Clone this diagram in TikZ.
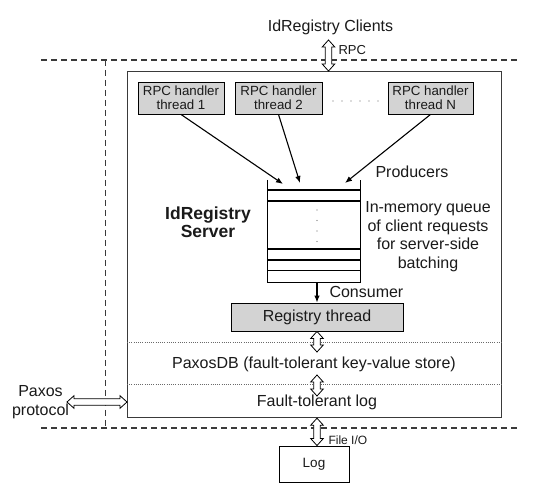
\documentclass[tikz,border=0pt]{standalone}
\usepackage{fontspec}
\setmainfont{Liberation Sans}
\usetikzlibrary{arrows.meta,calc}
\definecolor{boxgray}{HTML}{D3D3D3}
\definecolor{linegray}{HTML}{3A3A3A}
\definecolor{dotgray}{HTML}{6A6A6A}
\definecolor{txt}{HTML}{1A1A1A}
\newcommand\dblconn[2]{\draw[dblarr] let \p1=(#1), \p2=(#2), \n1={atan2(\y2-\y1,\x2-\x1)}, \n2={veclen(\x2-\x1,\y2-\y1)} in [shift={(\p1)}, rotate=\n1] (0,0) -- (7,6.3) -- (7,3.3) -- (\n2-7,3.3) -- (\n2-7,6.3) -- (\n2,0) -- (\n2-7,-6.3) -- (\n2-7,-3.3) -- (7,-3.3) -- (7,-6.3) -- cycle;}
\begin{document}
\begin{tikzpicture}[x=1pt,y=-1pt,
  every node/.style={text=txt},
  mainfont/.style={font=\fontsize{16}{18.5}\selectfont},
  smallfont/.style={font=\fontsize{13}{14}\selectfont},
  handler/.style={draw=black, fill=boxgray, line width=0.9pt, align=center, inner sep=0pt,
    font=\fontsize{13.3}{13.5}\selectfont, minimum height=32pt},
  regbox/.style={draw=black, fill=boxgray, line width=0.9pt, inner sep=0pt, mainfont,
    minimum width=172pt, minimum height=28pt},
  logbox/.style={draw=black, fill=white, line width=0.9pt, inner sep=0pt,
    font=\fontsize{13.5}{14}\selectfont, minimum width=70pt, minimum height=36pt},
  mainbox/.style={draw=linegray, line width=1.2pt, inner sep=0pt},
  dashline/.style={draw=linegray, line width=1.3pt, dash pattern=on 6pt off 4pt},
  dotline/.style={draw=dotgray, line width=0.6pt, dash pattern=on 0.8pt off 1.4pt},
  qline/.style={draw=black, line width=1.1pt},
  arr/.style={draw=black, line width=1.1pt, -{Latex[length=7pt,width=5.5pt]}},
  dblarr/.style={draw=black, fill=white, line width=0.8pt, line join=miter}
]
\useasboundingbox (0,0) rectangle (539,494);
\fill[white] (0,0) rectangle (539,494);

% dashed boundaries
\draw[dashline] (41,60) -- (517,60);
\draw[dashline] (41,428) -- (517,428);
\draw[dashline] (105.5,60) -- (105.5,428);

% server box
\node[mainbox, minimum width=374pt, minimum height=346pt, anchor=north west] (server) at (127,71) {};

% dotted separators
\draw[dotline] (server.west |- 0,342) -- (server.east |- 0,342);
\draw[dotline] (server.west |- 0,384) -- (server.east |- 0,384);

% clients
\node[mainfont, anchor=base] (clients) at (330.5,32) {IdRegistry Clients};
\node[smallfont, anchor=base west] (rpc) at (335,55) {RPC};

% handler threads
\node[handler, minimum width=86pt] (h1) at (181,98) {RPC handler\\thread 1};
\node[handler, minimum width=87pt] (h2) at (278.5,98) {RPC handler\\thread 2};
\node[handler, minimum width=85pt] (hn) at (430.5,98) {RPC handler\\thread N};
\foreach \i in {0,...,5} \fill[dotgray] (333+9*\i,101) circle (0.7pt);

% queue
\node[inner sep=0pt, minimum width=92.5pt, minimum height=102pt, anchor=north west] (queue) at (267.5,180) {};
\draw[qline] (queue.north west) -- (queue.south west) -- (queue.south east) -- (queue.north east);
\foreach \y in {190,201,249,260,270.5} \draw[qline] (267.5,\y) -- (360,\y);
\foreach \y in {210,220.5,231,241.5} \fill[dotgray] (317,\y) circle (0.7pt);

\coordinate (q1) at (283,184);
\coordinate (q2) at (300,183);
\coordinate (q3) at (345,183);
\draw[arr] (h1.south) -- (q1);
\draw[arr] (h2.south) -- (q2);
\draw[arr] (hn.south) -- (q3);

\node[mainfont, anchor=base west] (prod) at (372,178) {Producers};
\node[mainfont, align=center, inner sep=0pt] (qdesc) at (428,236.7) {In-memory queue\\of client requests\\for server-side\\batching};
\node[font=\bfseries\fontsize{17.5}{18}\selectfont, align=center, inner sep=0pt] (title) at (208,222.6) {IdRegistry\\Server};

% registry thread
\node[regbox] (reg) at (317,317) {Registry thread};
\draw[arr] (queue.south -| reg.north) -- (reg.north);
\node[mainfont, anchor=base west] (cons) at (326,297.7) {Consumer};

\node[mainfont, anchor=base] (paxosdb) at (314,368.3) {PaxosDB (fault-tolerant key-value store)};
\node[mainfont, anchor=base] (ftlog) at (317,406.7) {Fault-tolerant log};

\coordinate (d1) at (317,352);
\coordinate (d2a) at (317,375);
\coordinate (d2b) at (317,396);
\dblconn{reg.south}{d1}
\dblconn{d2a}{d2b}

% log
\node[logbox] (log) at (314,464) {Log};
\coordinate (d3a) at (server.south -| 317,0);
\coordinate (d3b) at (log.north -| 317,0);
\dblconn{d3a}{d3b}
\node[font=\fontsize{12}{14}\selectfont, anchor=base west] (fio) at (325,445) {File I/O};

% rpc arrow
\coordinate (r1) at (328.5,40);
\coordinate (r2) at (server.north -| 328.5,0);
\dblconn{r1}{r2}

% paxos protocol
\node[mainfont, align=center, inner sep=0pt] (paxos) at (40.5,402.1) {Paxos\\protocol};
\coordinate (p1) at (67,402);
\coordinate (p2) at (server.west |- 0,402);
\dblconn{p1}{p2}
\end{tikzpicture}
\end{document}
